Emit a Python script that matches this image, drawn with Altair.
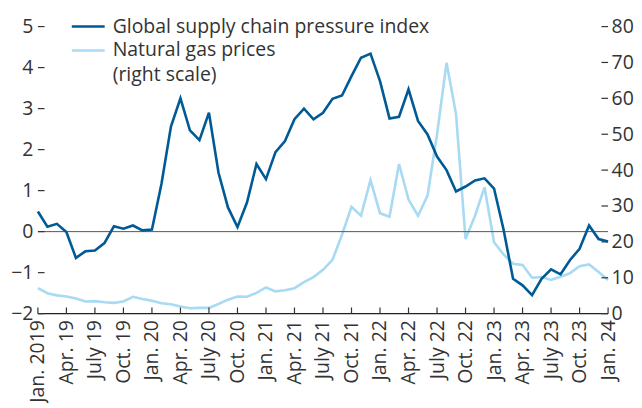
import altair as alt
import pandas as pd

months = pd.date_range("2019-01-01", "2024-01-01", freq="MS").strftime("%Y-%m").tolist()

gscpi = [0.49, 0.12, 0.19, -0.01, -0.64, -0.48, -0.46, -0.28, 0.13, 0.07, 0.15, 0.03,
         0.05, 1.16, 2.56, 3.25, 2.47, 2.23, 2.90, 1.44, 0.59, 0.11, 0.71, 1.65,
         1.28, 1.94, 2.21, 2.74, 3.00, 2.74, 2.90, 3.24, 3.32, 3.79, 4.24, 4.34,
         3.67, 2.76, 2.80, 3.47, 2.70, 2.37, 1.83, 1.50, 0.98, 1.10, 1.25, 1.30,
         1.05, 0.05, -1.15, -1.31, -1.55, -1.15, -0.92, -1.04, -0.69, -0.42, 0.15, -0.18, -0.24]

gas = [7.1, 5.7, 5.1, 4.8, 4.2, 3.4, 3.5, 3.2, 3.0, 3.4, 4.7, 4.1,
       3.6, 2.9, 2.6, 2.0, 1.5, 1.6, 1.6, 2.7, 3.9, 4.8, 4.7, 5.8,
       7.3, 6.2, 6.5, 7.1, 8.8, 10.2, 12.2, 15.0, 22.0, 29.8, 27.3, 37.2,
       28.0, 27.0, 41.7, 31.8, 27.3, 32.9, 50.0, 69.9, 55.6, 20.8, 27.3, 35.2,
       19.9, 16.5, 13.9, 13.6, 10.0, 10.2, 9.4, 10.3, 11.3, 13.2, 13.7, 11.6, 9.4]

tick_labels = ["Jan. 2019", "Apr. 19", "July 19", "Oct. 19",
               "Jan. 20", "Apr. 20", "July 20", "Oct. 20",
               "Jan. 21", "Apr. 21", "July 21", "Oct. 21",
               "Jan. 22", "Apr. 22", "July 22", "Oct. 22",
               "Jan. 23", "Apr. 23", "July 23", "Oct. 23", "Jan. 24"]

left_ticks = list(range(-2, 6))
right_ticks = list(range(0, 81, 10))
x_ticks = list(range(0, 61, 3))

series_names = ["Global supply chain pressure index", "Natural gas prices", "(right scale)"]

DARK = "#005a96"
LIGHT = "#a8daf3"
TXT = "#333333"
FONT = "Open Sans"
FS = 19.5

df = pd.DataFrame({"month": months, "idx": list(range(len(months))), "gscpi": gscpi, "gas": gas})

label_arr = "[" + ",".join("'" + t + "'" for t in tick_labels) + "]"

xscale = alt.Scale(domain=[0, 60], nice=False, zero=False)
lscale = alt.Scale(domain=[-2, 5], nice=False, zero=False)
rscale = alt.Scale(domain=[0, 80], nice=False, zero=False)

xaxis = alt.Axis(values=x_ticks, labelExpr=label_arr + "[round(datum.value/3)]",
                 labelAngle=-90, domain=False, grid=False, ticks=False,
                 labelPadding=6, title=None)


def xq(field):
    return alt.X(field, scale=xscale, axis=xaxis)


base = alt.Chart(df)

light = base.mark_line(color=LIGHT, strokeWidth=2.6).encode(
    x=xq("idx:Q"),
    y=alt.Y("gas:Q", scale=rscale,
            axis=alt.Axis(orient="right", values=right_ticks, domain=False, grid=False,
                          ticks=False, labelPadding=3, title=None)),
)

dark = base.mark_line(color=DARK, strokeWidth=2.6).encode(
    x=xq("idx:Q"),
    y=alt.Y("gscpi:Q", scale=lscale,
            axis=alt.Axis(orient="left", values=left_ticks, domain=False, grid=False,
                          ticks=False, labelPadding=5, title=None)),
)

one = alt.Data(values=[{"z": 0, "b": -2}])
zero_rule = alt.Chart(one).mark_rule(color="#555555", strokeWidth=1).encode(
    y=alt.Y("z:Q", scale=lscale, axis=None))
bottom_rule = alt.Chart(one).mark_rule(color="#222222", strokeWidth=1.3).encode(
    y=alt.Y("b:Q", scale=lscale, axis=None))

# inward tick marks
lt = pd.DataFrame({"v": left_ticks, "x0": 0.0, "x1": 0.7})
left_tick_marks = alt.Chart(lt).mark_rule(color=TXT, strokeWidth=1.2).encode(
    x=xq("x0:Q"), x2="x1:Q",
    y=alt.Y("v:Q", scale=lscale, axis=None))

xt = pd.DataFrame({"t": x_ticks, "y0": -2.0, "y1": -1.85})
x_tick_marks = alt.Chart(xt).mark_rule(color=TXT, strokeWidth=1.2).encode(
    x=xq("t:Q"),
    y=alt.Y("y0:Q", scale=lscale, axis=None), y2="y1:Q")

rt = pd.DataFrame({"v": right_ticks, "x0": 59.3, "x1": 60.0})
right_tick_marks = alt.Chart(rt).mark_rule(color=TXT, strokeWidth=1.2).encode(
    x=xq("x0:Q"), x2="x1:Q",
    y=alt.Y("v:Q", scale=rscale, axis=None))

leg = alt.Data(values=[{"k": 0}])
leg_sym1 = alt.Chart(leg).mark_rule(color=DARK, strokeWidth=2.6).encode(
    x=alt.value(34), x2=alt.value(67), y=alt.value(0))
leg_sym2 = alt.Chart(leg).mark_rule(color=LIGHT, strokeWidth=2.6).encode(
    x=alt.value(34), x2=alt.value(67), y=alt.value(24))
leg_txt1 = alt.Chart(leg).mark_text(align="left", baseline="middle", font=FONT, fontSize=FS,
                                    color=TXT).encode(
    x=alt.value(75), y=alt.value(0), text=alt.value(series_names[0]))
leg_txt2 = alt.Chart(leg).mark_text(align="left", baseline="middle", font=FONT, fontSize=FS,
                                    color=TXT, lineHeight=24.5).encode(
    x=alt.value(75), y=alt.value(24), text=alt.value([series_names[1], series_names[2]]))

chart = alt.layer(
    light, zero_rule, bottom_rule, left_tick_marks, x_tick_marks, right_tick_marks, dark,
    leg_sym1, leg_sym2, leg_txt1, leg_txt2
).resolve_scale(
    y="independent"
).properties(
    width=572, height=288, padding={"left": 2, "top": 8, "right": 0, "bottom": 0}
).configure_view(stroke=None).configure_axis(
    labelFont=FONT, labelFontSize=FS, labelColor=TXT
)

chart.save("out.html", embed_options={"renderer": "svg", "actions": False})
